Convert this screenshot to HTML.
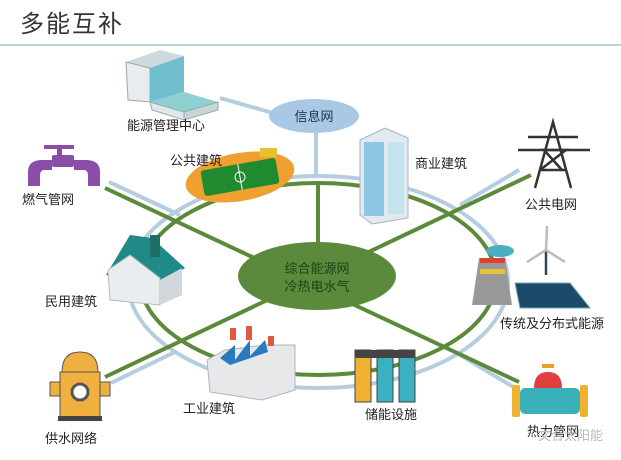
<!DOCTYPE html>
<html><head><meta charset="utf-8"><style>
html,body{margin:0;padding:0;background:#fff;}
svg{display:block;}
text{font-family:"Liberation Sans","Noto Sans CJK SC",sans-serif;}
</style></head><body>
<svg width="621" height="460" viewBox="0 0 621 460" xmlns="http://www.w3.org/2000/svg">
<rect width="621" height="460" fill="#fff"/>
<text x="20" y="32" font-size="24" fill="#333" letter-spacing="2">多能互补</text>
<line x1="0" y1="45" x2="621" y2="45" stroke="#bcd3da" stroke-width="2"/>

<g stroke="#b5cde0" stroke-width="4" fill="none">
<ellipse cx="318" cy="282" rx="190" ry="106"/>
<line x1="109" y1="182" x2="180" y2="215"/>
<line x1="519" y1="170" x2="460" y2="205"/>
<line x1="111" y1="383" x2="175" y2="352"/>
<line x1="515" y1="388" x2="455" y2="352"/>
<line x1="316" y1="133" x2="316" y2="177"/>
<line x1="220" y1="98" x2="273" y2="113"/>
</g>
<g stroke="#5a8a3a" stroke-width="4" fill="none">
<ellipse cx="318" cy="279" rx="178" ry="96"/>
<line x1="105" y1="188" x2="519" y2="382"/>
<line x1="531" y1="175" x2="105" y2="377"/>
<line x1="318" y1="183" x2="318" y2="250"/>
</g>
<ellipse cx="317" cy="276" rx="79" ry="34" fill="#5c8a3c"/>
<text x="317" y="273" font-size="13" fill="#1f3f14" text-anchor="middle">综合能源网</text>
<text x="317" y="291" font-size="13" fill="#1f3f14" text-anchor="middle">冷热电水气</text>

<ellipse cx="314" cy="116" rx="45" ry="17" fill="#a9c8e6"/>
<text x="314" y="121" font-size="13" fill="#234" text-anchor="middle">信息网</text>

<!-- energy management building -->
<polygon points="126,62 160,50 184,56 150,68" fill="#cfd8dc"/>
<polygon points="126,62 150,68 150,102 128,100" fill="#e8ecef" stroke="#9aa" stroke-width="1"/>
<polygon points="150,68 184,56 184,92 150,102" fill="#6fbfcf"/>
<polygon points="150,102 184,92 218,102 184,112" fill="#8fd0d0"/>
<polygon points="150,102 184,112 184,120 152,110" fill="#dfe7ea" stroke="#9aa"/>
<polygon points="184,112 218,102 218,110 184,120" fill="#c8d4d8" stroke="#9aa"/>

<!-- stadium -->
<g transform="rotate(-10 240 177)">
<ellipse cx="240" cy="177" rx="55" ry="24" fill="#f0a030"/>
<rect x="202" y="164" width="76" height="26" fill="#1f8a2e" rx="3"/>
<line x1="240" y1="164" x2="240" y2="190" stroke="#fff"/>
<circle cx="240" cy="177" r="5" fill="none" stroke="#fff"/>
</g>
<rect x="260" y="148" width="17" height="9" fill="#e8c030"/>

<!-- tower -->
<polygon points="360,140 385,128 408,138 408,218 372,224 360,215" fill="#e2eaf0" stroke="#a0b4c0"/>
<rect x="364" y="142" width="20" height="74" fill="#8ec6e6"/>
<rect x="388" y="142" width="16" height="72" fill="#c2e4ef"/>

<!-- pylon -->
<g stroke="#333" stroke-width="2.5" fill="none">
<polyline points="535,188 553,122 571,188"/>
<line x1="518" y1="150" x2="590" y2="150"/><line x1="528" y1="137" x2="578" y2="137"/>
<polyline points="540,170 566,150 544,150 562,170"/>
<line x1="540" y1="170" x2="566" y2="170"/>
</g>

<!-- gas pipe -->
<g fill="#8b4ea8">
<rect x="44" y="145" width="30" height="4"/><rect x="57" y="145" width="5" height="12"/>
<rect x="52" y="155" width="22" height="12" rx="2"/>
<path d="M28,186 L28,172 Q28,160 42,160 L52,160 L52,170 L44,170 Q40,170 40,176 L40,186Z"/>
<path d="M100,186 L100,172 Q100,160 86,160 L74,160 L74,170 L84,170 Q88,170 88,176 L88,186Z"/>
</g>

<!-- house -->
<polygon points="106,275 130,235 152,238 185,268 160,285" fill="#1f8a86"/>
<polygon points="108,270 110,300 160,305 160,278 130,255" fill="#e8edf0" stroke="#b0bac0"/>
<rect x="150" y="235" width="10" height="22" fill="#1f6e6a"/>
<polygon points="160,280 182,268 182,295 160,305" fill="#d0d8dc"/>

<!-- power plant / wind / solar -->
<polygon points="479,258 505,258 512,305 472,305" fill="#999"/>
<rect x="480" y="258" width="25" height="5" fill="#e04030"/>
<rect x="480" y="269" width="25" height="5" fill="#e8c040"/>
<ellipse cx="500" cy="251" rx="14" ry="6" fill="#48b0c0"/>
<line x1="546" y1="250" x2="546" y2="275" stroke="#345" stroke-width="2.5"/>
<g stroke="#bbb" stroke-width="2.5"><line x1="546" y1="250" x2="547" y2="226"/><line x1="546" y1="250" x2="527" y2="262"/><line x1="546" y1="250" x2="565" y2="262"/></g>
<polygon points="515,283 570,283 590,308 520,308" fill="#1e4a6a" stroke="#6ab" stroke-width="1"/>

<!-- factory -->
<polygon points="207,360 225,350 265,345 295,345 295,390 262,400 210,392" fill="#e6e8ea" stroke="#b0b4b8"/>
<polygon points="220,358 235,345 235,360 250,340 250,356 265,340 268,352 230,365" fill="#2a7ac0"/>
<rect x="230" y="328" width="6" height="12" fill="#e05a40"/><rect x="246" y="326" width="6" height="14" fill="#e05a40"/><rect x="268" y="336" width="6" height="10" fill="#e05a40"/>

<!-- batteries -->
<rect x="355" y="350" width="16" height="52" fill="#f0b030" stroke="#444"/>
<rect x="377" y="350" width="16" height="52" fill="#3ab0c0" stroke="#444"/>
<rect x="399" y="350" width="16" height="52" fill="#3ab0c0" stroke="#444"/>
<rect x="355" y="350" width="60" height="8" fill="#444"/>

<!-- hydrant -->
<path d="M62,372 Q62,352 80,352 Q98,352 98,372 Z" fill="#f0b040" stroke="#555"/>
<rect x="60" y="372" width="40" height="45" fill="#f0b040" stroke="#555"/>
<rect x="50" y="382" width="10" height="14" fill="#f0b040" stroke="#555"/>
<rect x="100" y="382" width="10" height="14" fill="#f0b040" stroke="#555"/>
<circle cx="80" cy="392" r="8" fill="#fff" stroke="#555" stroke-width="3"/>
<rect x="58" y="416" width="44" height="5" fill="#444"/>

<!-- heat valve -->
<rect x="542" y="364" width="12" height="4" fill="#e8a020"/>
<path d="M534,388 Q534,372 548,372 Q562,372 562,388Z" fill="#e04040"/>
<rect x="520" y="388" width="60" height="26" rx="5" fill="#3ab0b8"/>
<rect x="512" y="385" width="8" height="32" rx="2" fill="#f0b030"/>
<rect x="580" y="385" width="8" height="32" rx="2" fill="#f0b030"/>

<g font-size="13" fill="#222">
<text x="127" y="130">能源管理中心</text>
<text x="170" y="165">公共建筑</text>
<text x="415" y="168">商业建筑</text>
<text x="22" y="204">燃气管网</text>
<text x="525" y="209">公共电网</text>
<text x="45" y="306">民用建筑</text>
<text x="500" y="328">传统及分布式能源</text>
<text x="183" y="413">工业建筑</text>
<text x="365" y="419">储能设施</text>
<text x="45" y="443">供水网络</text>
<text x="527" y="436">热力管网</text>
</g>
<text x="538" y="440" font-size="13" fill="#bbb">文合太阳能</text>
</svg>
</body></html>
